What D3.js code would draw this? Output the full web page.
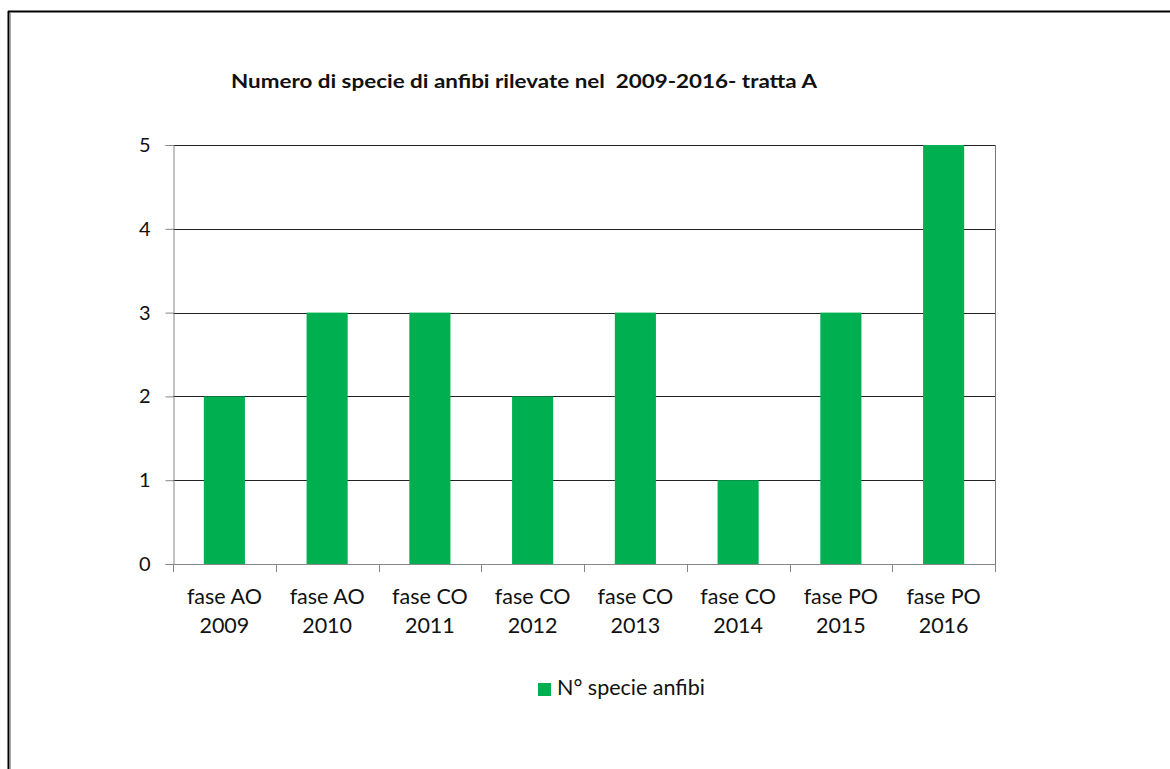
<!DOCTYPE html>
<html>
<head>
<meta charset="utf-8">
<script src="https://cdn.jsdelivr.net/npm/d3@7"></script>
<style>
  html, body { margin: 0; padding: 0; background: #fff; }
  svg { display: block; }
  text { font-family: Lato, "Open Sans", sans-serif; fill: #111; }
</style>
</head>
<body>
<svg id="chart" width="1170" height="769"></svg>
<script>
// Data
const categories = ["fase AO 2009", "fase AO 2010", "fase CO 2011", "fase CO 2012",
                    "fase CO 2013", "fase CO 2014", "fase PO 2015", "fase PO 2016"];
const speciesCount = [2, 3, 3, 2, 3, 1, 3, 5];
const yTicks = [0, 1, 2, 3, 4, 5];
const titleText = "Numero di specie di anfibi rilevate nel\u00a0\u00a02009-2016- tratta A";
const seriesName = "N° specie anfibi";

const svg = d3.select("#chart");
const barColor = "#00B050";

// Outer frame (left and top edges)
svg.append("line").attr("x1", 8.5).attr("y1", 11).attr("x2", 8.5).attr("y2", 769)
  .attr("stroke", "#000").attr("stroke-width", 2);
svg.append("line").attr("x1", 8).attr("y1", 11.5).attr("x2", 1170).attr("y2", 11.5)
  .attr("stroke", "#000").attr("stroke-width", 2);
svg.append("line").attr("x1", 10.5).attr("y1", 13).attr("x2", 10.5).attr("y2", 769)
  .attr("stroke", "#aaa").attr("stroke-width", 1);

// Plot area
const plot = { left: 173, right: 995, top: 145, bottom: 564 };

const x = d3.scaleBand().domain(categories)
  .range([plot.left, plot.right]).paddingInner(0.6).paddingOuter(0.3);
const xBand = d3.scaleBand().domain(categories).range([plot.left, plot.right]);
const y = d3.scaleLinear().domain([0, 5]).range([plot.bottom, plot.top]);

// Gridlines
svg.append("g").selectAll("line").data(yTicks.filter(d => d > 0)).join("line")
  .attr("x1", plot.left).attr("x2", plot.right)
  .attr("y1", d => Math.round(y(d)) + 0.5).attr("y2", d => Math.round(y(d)) + 0.5)
  .attr("stroke", "#222").attr("stroke-width", 1);

// Right border of plot
svg.append("line").attr("x1", plot.right + 0.5).attr("x2", plot.right + 0.5)
  .attr("y1", plot.top).attr("y2", plot.bottom)
  .attr("stroke", "#777").attr("stroke-width", 1);

// Bars
svg.append("g").selectAll("rect").data(speciesCount).join("rect")
  .attr("x", (d, i) => x(categories[i]))
  .attr("width", x.bandwidth())
  .attr("y", d => y(d))
  .attr("height", d => y(0) - y(d))
  .attr("fill", barColor);

// Y axis
const yAxis = svg.append("g").attr("transform", `translate(${plot.left + 0.5},0)`)
  .call(d3.axisLeft(y).tickValues(yTicks).tickSize(8).tickPadding(15).tickFormat(d3.format("d")));
yAxis.select(".domain").attr("stroke", "#868686");
yAxis.selectAll(".tick line").attr("stroke", "#868686");
yAxis.selectAll(".tick text").attr("font-size", 20).attr("fill", "#111")
  .style("font-family", "Lato, sans-serif");

// X axis line and ticks at category boundaries
svg.append("line").attr("x1", plot.left).attr("x2", plot.right + 1)
  .attr("y1", plot.bottom + 0.5).attr("y2", plot.bottom + 0.5)
  .attr("stroke", "#868686");
const boundaries = categories.map(c => xBand(c)).concat([plot.right]);
svg.append("g").selectAll("line").data(boundaries).join("line")
  .attr("x1", d => Math.round(d) + 0.5).attr("x2", d => Math.round(d) + 0.5)
  .attr("y1", plot.bottom).attr("y2", plot.bottom + 8)
  .attr("stroke", "#868686");

// Category labels (two lines)
const labels = svg.append("g").selectAll("text").data(categories).join("text")
  .attr("text-anchor", "middle")
  .attr("font-size", 21.5)
  .attr("x", d => xBand(d) + xBand.bandwidth() / 2);
labels.append("tspan").attr("x", d => xBand(d) + xBand.bandwidth() / 2).attr("y", 604)
  .text(d => d.split(" ").slice(0, 2).join(" "));
labels.append("tspan").attr("x", d => xBand(d) + xBand.bandwidth() / 2).attr("y", 633)
  .text(d => d.split(" ")[2]);

// Title
svg.append("text").attr("x", 231).attr("y", 88)
  .attr("font-size", 18.5).attr("font-weight", "bold")
  .attr("textLength", 586).attr("lengthAdjust", "spacingAndGlyphs")
  .style("white-space", "pre")
  .text(titleText);

// Legend
svg.append("rect").attr("x", 538).attr("y", 683).attr("width", 13).attr("height", 13)
  .attr("fill", barColor);
svg.append("text").attr("x", 557).attr("y", 695).attr("font-size", 21.5)
  .text(seriesName);
</script>
</body>
</html>
